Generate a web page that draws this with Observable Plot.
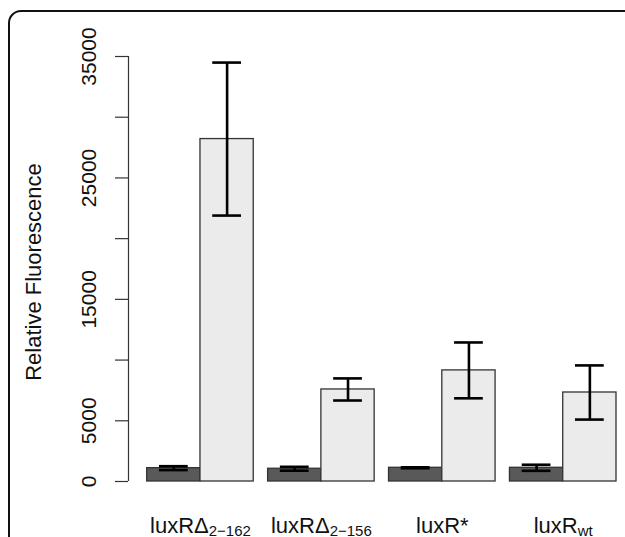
<!DOCTYPE html>
<html><head><meta charset="utf-8">
<script src="https://cdn.jsdelivr.net/npm/d3@7"></script>
<script src="https://cdn.jsdelivr.net/npm/@observablehq/plot@0.6"></script>
<style>
html,body{margin:0;padding:0;overflow:hidden;background:#fff;width:625px;height:537px}
#frame{position:absolute;left:8px;top:10px;width:700px;height:600px;border:2px solid #111;border-radius:13px;box-sizing:border-box;pointer-events:none}
#chart{position:absolute;left:0;top:0}
</style></head><body>
<div id="chart"></div><div id="frame"></div>
<script>
// ---- data ----
const groupLabels = ["luxRΔ", "luxRΔ", "luxR*", "luxR"];
const groupSubs = ["2−162", "2−156", "", "wt"];
const conditions = ["off", "on"];
const meansOff = [1100, 1050, 1130, 1130];
const errOff = [160, 160, 40, 250];
const meansOn = [28200, 7580, 9150, 7330];
const errOn = [6300, 910, 2300, 2230];
const yTicks = [0, 5000, 10000, 15000, 20000, 25000, 30000, 35000];
const yTickLabels = [0, 5000, 15000, 25000, 35000];
const yTitle = "Relative Fluorescence";

// ---- layout helpers (barplot-style positions) ----
const space = 0.27;          // gap between groups, in bar widths
const xDomain = [-0.351, 8.81];
const capHalf = 0.27;        // half error-bar cap width, in bar widths

const bars = [];
groupLabels.forEach((g, gi) => {
  conditions.forEach((c, ci) => {
    const x1 = gi * (2 + space) + ci;
    const mean = ci === 0 ? meansOff[gi] : meansOn[gi];
    const err = ci === 0 ? errOff[gi] : errOn[gi];
    bars.push({group: gi, cond: c, x1, x2: x1 + 1, xc: x1 + 0.5, mean, err});
  });
});
const caps = bars.flatMap(d => [{xc: d.xc, v: d.mean - d.err}, {xc: d.xc, v: d.mean + d.err}]);
const groupCenters = groupLabels.map((g, gi) => ({label: g, sub: groupSubs[gi], x: gi * (2 + space) + 1, key: "grp" + gi}));

const font = "'Liberation Sans', Arial, Helvetica, sans-serif";

const chart = Plot.plot({
  width: 625,
  height: 537,
  marginLeft: 128,
  marginRight: 9,
  marginTop: 56,
  marginBottom: 56,
  style: {fontFamily: font, color: "#111", background: "transparent", overflow: "visible"},
  x: {domain: xDomain, axis: null},
  y: {domain: [yTicks[0], yTicks[yTicks.length - 1]], axis: null},
  color: {domain: conditions, range: ["#595959", "#ebebeb"]},
  marks: [
    Plot.ruleX([xDomain[0]], {x: d => d, y1: yTicks[0], y2: yTicks[yTicks.length - 1], stroke: "#333", strokeWidth: 1.2}),
    Plot.axisY({ticks: yTicks, tickSize: 13, tickFormat: () => "", label: null, stroke: "#333", strokeWidth: 1.2}),
    Plot.text(yTickLabels, {y: d => d, text: d => String(d), frameAnchor: "left", dx: -39, rotate: -90,
      textAnchor: "middle", lineAnchor: "middle", fontSize: 21, fill: "#111"}),
    Plot.text([yTitle], {text: d => d, frameAnchor: "left", dx: -95, dy: 3, rotate: -90,
      textAnchor: "middle", lineAnchor: "middle", fontSize: 22, fill: "#111"}),
    Plot.rect(bars, {x1: "x1", x2: "x2", y1: 0, y2: "mean", fill: "cond", stroke: "#333", strokeWidth: 1.3}),
    Plot.ruleX(bars, {x: "xc", y1: d => d.mean - d.err, y2: d => d.mean + d.err, stroke: "#000", strokeWidth: 2.6}),
    Plot.ruleY(caps, {y: "v", x1: d => d.xc - capHalf, x2: d => d.xc + capHalf, stroke: "#000", strokeWidth: 2.6}),
    Plot.text(groupCenters, {x: "x", text: "label", frameAnchor: "bottom", dy: 44, fontSize: 22,
      lineAnchor: "middle", textAnchor: "middle", fill: "#111", ariaLabel: "key"})
  ]
});
document.getElementById("chart").appendChild(chart);

// add subscripts to group labels
groupCenters.forEach(gc => {
  if (!gc.sub) return;
  const nodes = chart.querySelectorAll('[aria-label="' + gc.key + '"]');
  nodes.forEach(n => {
    const t = n.tagName.toLowerCase() === "text" ? n : n.querySelector("text");
    if (!t) return;
    const ts = document.createElementNS("http://www.w3.org/2000/svg", "tspan");
    ts.setAttribute("dy", "3");
    ts.setAttribute("font-size", "15");
    ts.textContent = gc.sub;
    t.appendChild(ts);
  });
});
</script>
</body></html>
